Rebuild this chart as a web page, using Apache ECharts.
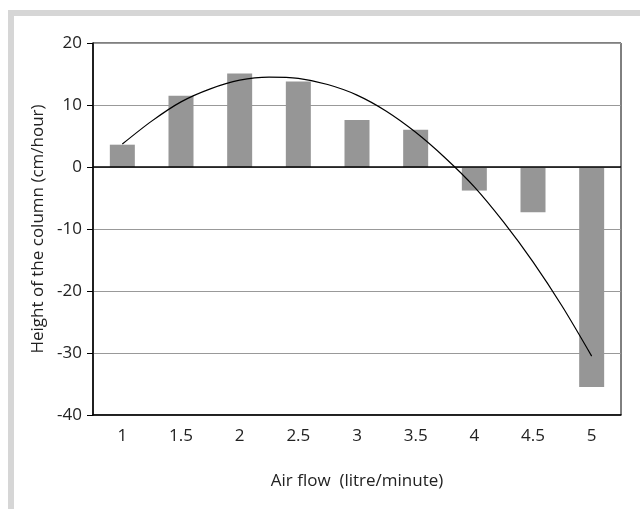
<!DOCTYPE html>
<html>
<head>
<meta charset="utf-8">
<script src="https://cdn.jsdelivr.net/npm/echarts@6/dist/echarts.min.js"></script>
<style>
  html, body { margin: 0; padding: 0; background: #fff; }
  #chart { width: 640px; height: 509px; }
</style>
</head>
<body>
<div id="chart"></div>
<script>
// data
const airFlow = ['1', '1.5', '2', '2.5', '3', '3.5', '4', '4.5', '5']
const columnHeight = [3.6, 11.5, 15.1, 13.8, 7.6, 6.0, -3.8, -7.3, -35.5]
// trend curve, read at quarter steps of air flow
const trendX = [1, 1.25, 1.5, 1.75, 2, 2.25, 2.5, 2.75, 3, 3.25, 3.5, 3.75, 4, 4.25, 4.5, 4.75, 5]
const trendY = [3.7, 7.4, 10.5, 12.6, 14.0, 14.5, 14.3, 13.3, 11.6, 9.0, 5.6, 1.5, -3.2, -8.9, -15.3, -22.5, -30.5]

const font = '"Open Sans", "Noto Sans", sans-serif'

const chart = echarts.init(document.getElementById('chart'))

chart.setOption({
  animation: false,
  graphic: [
    // light grey frame (top + left edge)
    { type: 'rect', shape: { x: 8, y: 10, width: 632, height: 6 }, style: { fill: '#d6d6d6' } },
    { type: 'rect', shape: { x: 8, y: 10, width: 6, height: 499 }, style: { fill: '#d6d6d6' } }
  ],
  grid: {
    left: 93,
    right: 19,
    top: 43,
    bottom: 94,
    show: true,
    borderColor: '#000',
    borderWidth: 1,
    backgroundColor: '#fff'
  },
  xAxis: [
    {
      type: 'category',
      data: airFlow,
      name: 'Air flow  (litre/minute)',
      nameLocation: 'middle',
      nameGap: 58,
      nameTextStyle: { fontFamily: font, fontSize: 17, color: '#222' },
      axisLine: { onZero: false, lineStyle: { color: '#000', width: 1.5 } },
      axisTick: { show: false },
      axisLabel: { fontFamily: font, fontSize: 17, color: '#222', margin: 13 },
      splitLine: { show: false }
    },
    {
      // hidden value axis lined up with the category centres, for the curve
      type: 'value',
      min: 0.75,
      max: 5.25,
      show: false,
      position: 'bottom'
    }
  ],
  yAxis: {
    type: 'value',
    min: -40,
    max: 20,
    interval: 10,
    name: 'Height of the column (cm/hour)',
    nameLocation: 'middle',
    nameGap: 45,
    nameTextStyle: { fontFamily: font, fontSize: 17, color: '#222' },
    axisLine: { show: true, lineStyle: { color: '#000', width: 1.5 } },
    axisTick: { show: true, length: 6, lineStyle: { color: '#000' } },
    axisLabel: { fontFamily: font, fontSize: 17, color: '#222', margin: 11 },
    splitLine: { show: true, lineStyle: { color: '#999', width: 1 } }
  },
  series: [
    {
      type: 'bar',
      data: columnHeight,
      barWidth: 25,
      itemStyle: { color: '#969696' },
      markLine: {
        silent: true,
        symbol: 'none',
        label: { show: false },
        lineStyle: { color: '#000', width: 1.5, type: 'solid' },
        data: [{ yAxis: 0 }]
      }
    },
    {
      type: 'line',
      xAxisIndex: 1,
      data: trendX.map((x, i) => [x, trendY[i]]),
      smooth: 0.3,
      showSymbol: false,
      lineStyle: { color: '#000', width: 1.2 },
      z: 5
    }
  ]
})
</script>
</body>
</html>
